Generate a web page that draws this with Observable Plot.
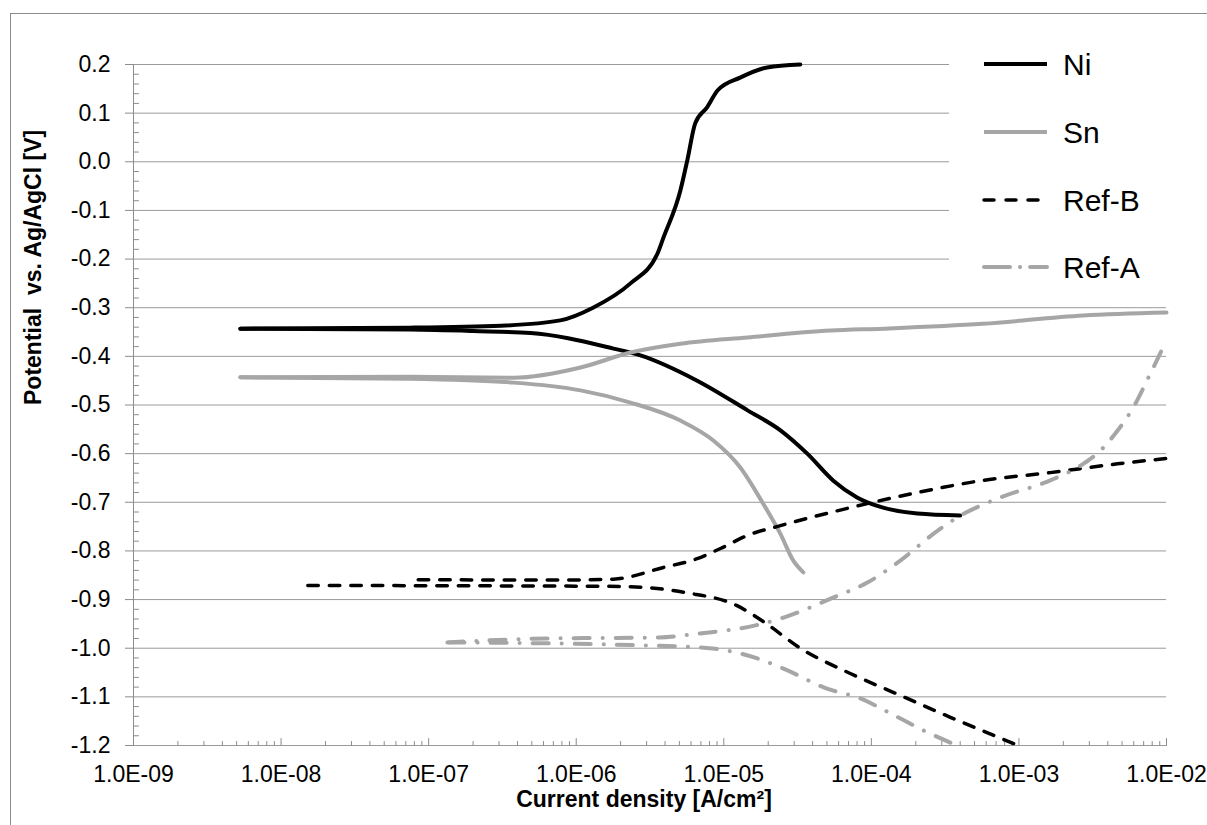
<!DOCTYPE html>
<html>
<head>
<meta charset="utf-8">
<script src="https://cdn.jsdelivr.net/npm/d3@7"></script>
<script src="https://cdn.jsdelivr.net/npm/@observablehq/plot@0.6"></script>
<style>
html, body { margin: 0; padding: 0; background: #fff; overflow: hidden; }
#wrap { position: relative; width: 1207px; height: 825px; font-family: 'Liberation Sans', Arial, sans-serif; }
#chart { position: absolute; left: 0; top: 0; }
#border { position: absolute; left: 10px; top: 13px; width: 1400px; height: 1000px; border: 1px solid #8c8c8c; pointer-events: none; }
#legend { position: absolute; left: 949px; top: 40px; width: 258px; height: 255px; background: #fff; }
</style>
</head>
<body>
<div id="wrap">
  <div id="chart"></div>
  <div id="legend"></div>
  <div id="border"></div>
</div>
<script>
// ---- axis ticks and labels ----
const xTicks = [1e-9, 1e-8, 1e-7, 1e-6, 1e-5, 1e-4, 1e-3, 1e-2];
const xTickLabels = ["1.0E-09", "1.0E-08", "1.0E-07", "1.0E-06", "1.0E-05", "1.0E-04", "1.0E-03", "1.0E-02"];
const yTicks = [0.2, 0.1, 0.0, -0.1, -0.2, -0.3, -0.4, -0.5, -0.6, -0.7, -0.8, -0.9, -1.0, -1.1, -1.2];
const yTickLabels = ["0.2", "0.1", "0.0", "-0.1", "-0.2", "-0.3", "-0.4", "-0.5", "-0.6", "-0.7", "-0.8", "-0.9", "-1.0", "-1.1", "-1.2"];
const xTitle = "Current density [A/cm\u00b2]";
const yTitle = "Potential\u00a0 vs. Ag/AgCl [V]";

// ---- series ----
const seriesNames = ["Ni", "Sn", "Ref-B", "Ref-A"];

// Ni
const niCathI = [4.0e-4, 2.05e-4, 1.2e-4, 8.0e-5, 5.5e-5, 3.68e-5, 2.42e-5, 1.45e-5, 6.6e-6, 2.72e-6, 1.79e-6, 4.9e-7, 2.0e-7, 7.5e-8, 5.3e-9];
const niCathE = [-0.727, -0.723, -0.711, -0.690, -0.655, -0.600, -0.552, -0.511, -0.450, -0.398, -0.384, -0.352, -0.348, -0.345, -0.343];
const niAnodI = [5.3e-9, 7.5e-8, 3.1e-7, 7.8e-7, 1.3e-6, 2.33e-6, 3.55e-6, 3.9e-6, 5.08e-6, 5.66e-6, 6.4e-6, 7.7e-6, 9.1e-6, 1.29e-5, 1.97e-5, 3.3e-5];
const niAnodE = [-0.343, -0.341, -0.337, -0.326, -0.300, -0.250, -0.189, -0.156, -0.059, 0.003, 0.079, 0.112, 0.147, 0.173, 0.194, 0.200];

// Sn
const snCathI = [3.46e-5, 2.96e-5, 2.42e-5, 1.85e-5, 1.29e-5, 8.5e-6, 5.08e-6, 2.33e-6, 1.07e-6, 3.76e-7, 7.5e-8, 5.3e-9];
const snCathE = [-0.844, -0.820, -0.765, -0.703, -0.628, -0.573, -0.532, -0.495, -0.470, -0.454, -0.446, -0.443];
const snAnodI = [5.3e-9, 7.5e-8, 3.76e-7, 1.07e-6, 2.33e-6, 5.08e-6, 1.45e-5, 5.3e-5, 1.2e-4, 5.7e-4, 2.73e-3, 1.0e-2];
const snAnodE = [-0.443, -0.442, -0.444, -0.423, -0.392, -0.374, -0.361, -0.347, -0.343, -0.333, -0.316, -0.310];

// Ref-B
const refBCathI = [9.2e-4, 3.43e-4, 1.57e-4, 7.2e-5, 3.3e-5, 1.85e-5, 1.22e-5, 5.6e-6, 2.0e-6, 4.0e-7, 1.3e-8];
const refBCathE = [-1.196, -1.142, -1.097, -1.052, -1.000, -0.945, -0.912, -0.886, -0.873, -0.872, -0.871];
const refBAnodI = [8.5e-8, 6.2e-7, 1.79e-6, 3.9e-6, 6.6e-6, 9.5e-6, 1.45e-5, 2.42e-5, 7.2e-5, 2.05e-4, 5.7e-4, 1.63e-3, 4.65e-3, 1.0e-2];
const refBAnodE = [-0.859, -0.860, -0.858, -0.834, -0.816, -0.795, -0.768, -0.748, -0.711, -0.680, -0.655, -0.639, -0.621, -0.610];

// Ref-A
const refACathI = [3.43e-4, 2.4e-4, 1.35e-4, 8.4e-5, 5.0e-5, 2.54e-5, 1.69e-5, 8.0e-6, 2.72e-6, 1.34e-7];
const refACathE = [-1.194, -1.173, -1.134, -1.103, -1.083, -1.042, -1.021, -1.000, -0.994, -0.988];
const refAAnodI = [1.34e-7, 6.2e-7, 3.66e-6, 6.73e-6, 1.64e-5, 2.54e-5, 5.5e-5, 9.4e-5, 1.57e-4, 2.63e-4, 3.83e-4, 7.5e-4, 1.63e-3, 2.73e-3, 3.56e-3, 4.65e-3, 5.96e-3, 7.76e-3, 1.0e-2];
const refAAnodE = [-0.988, -0.980, -0.978, -0.970, -0.953, -0.937, -0.896, -0.865, -0.820, -0.765, -0.731, -0.690, -0.655, -0.621, -0.594, -0.553, -0.505, -0.436, -0.367];

// ---- styles ----
const styles = {
  "Ni":    {stroke: "#000000", strokeWidth: 4,   dash: null},
  "Sn":    {stroke: "#a6a6a6", strokeWidth: 4,   dash: null},
  "Ref-B": {stroke: "#000000", strokeWidth: 3.5, dash: "10.5,11"},
  "Ref-A": {stroke: "#a6a6a6", strokeWidth: 4,   dash: "16,13,0.1,13"}
};

function rows(name, branch, I, E) {
  return I.map((i, k) => ({series: name, branch: name + "-" + branch, i, E: E[k]}));
}
const data = [
  ...rows("Ni", "c", niCathI, niCathE), ...rows("Ni", "a", niAnodI, niAnodE),
  ...rows("Sn", "c", snCathI, snCathE), ...rows("Sn", "a", snAnodI, snAnodE),
  ...rows("Ref-B", "c", refBCathI, refBCathE), ...rows("Ref-B", "a", refBAnodI, refBAnodE),
  ...rows("Ref-A", "c", refACathI, refACathE), ...rows("Ref-A", "a", refAAnodI, refAAnodE)
];

// minor ticks
const xMinor = [];
for (let d = -9; d < -2; d++) for (let k = 2; k <= 9; k++) xMinor.push(k * Math.pow(10, d));
const yMinor = d3.range(-60, 10).filter(k => k % 5 !== 0).map(k => k / 50);

const tickShape = { draw(ctx, l) { ctx.moveTo(0, 0); ctx.lineTo(0, -l); } };
const axisGray = "#8c8c8c";

const lineMarks = seriesNames.map(name => Plot.line(data.filter(d => d.series === name), {
  x: "i", y: "E", z: "branch",
  stroke: styles[name].stroke, strokeWidth: styles[name].strokeWidth,
  strokeDasharray: styles[name].dash, strokeLinecap: "round", strokeLinejoin: "round", curve: "monotone-x"
}));

const chart = Plot.plot({
  width: 1207, height: 825,
  marginLeft: 133, marginRight: 41, marginTop: 64, marginBottom: 80,
  style: {fontFamily: "'Liberation Sans', Arial, sans-serif", fontSize: "23px", background: "transparent", color: "#000", overflow: "visible"},
  x: {type: "log", domain: [1e-9, 1e-2]},
  y: {domain: [-1.2, 0.2]},
  marks: [
    Plot.ruleY(yTicks, {stroke: "#9a9a9a", strokeWidth: 1}),
    Plot.ruleX([1e-9], {stroke: axisGray, strokeWidth: 1}),
    Plot.vector(xMinor, {x: d => d, y: -1.2, length: 4, rotate: 0, anchor: "start", shape: tickShape, stroke: axisGray, strokeWidth: 1}),
    Plot.vector(xTicks, {x: d => d, y: -1.2, length: 7, rotate: 0, anchor: "start", shape: tickShape, stroke: axisGray, strokeWidth: 1}),
    Plot.vector(yMinor, {x: 1e-9, y: d => d, length: 5, rotate: 90, anchor: "start", shape: tickShape, stroke: axisGray, strokeWidth: 1}),
    Plot.axisY({ticks: yTicks, tickFormat: d => yTickLabels[yTicks.indexOf(d)], tickSize: 8, tickPadding: 15, stroke: axisGray, fill: "#000", fontSize: 23, label: null}),
    Plot.axisX({ticks: xTicks, tickFormat: d => xTickLabels[xTicks.indexOf(d)], tickSize: 0, tickPadding: 20, fill: "#000", fontSize: 23, label: null}),
    ...lineMarks,
    Plot.text([yTitle], {frameAnchor: "left", dx: -100, rotate: -90, fontWeight: "bold", fontSize: 23, fill: "#000"}),
    Plot.text([xTitle], {frameAnchor: "bottom", dx: -6, dy: 61, fontWeight: "bold", fontSize: 23, fill: "#000"})
  ]
});
document.getElementById("chart").appendChild(chart);

// ---- legend ----
const legendY = [24, 92, 160, 227];
const lg = d3.select("#legend").append("svg").attr("width", 258).attr("height", 255);
seriesNames.forEach((name, k) => {
  const s = styles[name];
  lg.append("line").attr("x1", 35).attr("x2", 98).attr("y1", legendY[k]).attr("y2", legendY[k])
    .attr("stroke", s.stroke).attr("stroke-width", s.strokeWidth).attr("stroke-linecap", s.dash ? "round" : "butt")
    .attr("stroke-dasharray", name === "Ref-B" ? "10,12" : name === "Ref-A" ? "26,10,0.1,10" : null);
  lg.append("text").attr("x", 114).attr("y", legendY[k]).attr("dy", "0.36em")
    .attr("font-family", "'Liberation Sans', Arial, sans-serif").attr("font-size", 30).attr("fill", "#000").text(name);
});
</script>
</body>
</html>
